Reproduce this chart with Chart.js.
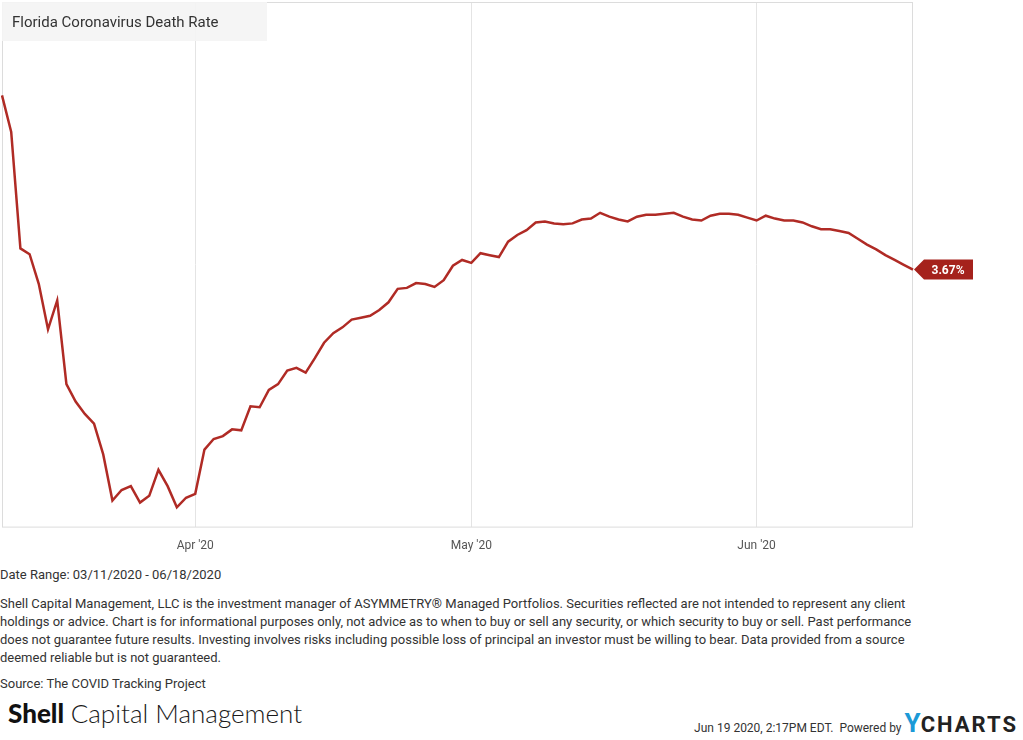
<!DOCTYPE html>
<html>
<head>
<meta charset="utf-8">
<script src="https://cdn.jsdelivr.net/npm/chart.js@4"></script>
<style>
  body { margin: 0; background: #fff; font-family: Roboto, sans-serif; color: #333; }
  #wrap { position: relative; width: 1023px; height: 740px; }
  #chartBox { position: absolute; left: 0; top: 0; width: 1023px; height: 565px; }
  #title { position: absolute; left: 2px; top: 2px; width: 255px; height: 39px; line-height: 40px;
           padding-left: 10px; background: rgba(244,244,244,0.92); font-size: 15px; color: #333; }
  .note { position: absolute; left: 0; font-size: 13px; line-height: 18px; color: #333; }
  #logo { position: absolute; left: 8px; top: 697px; font-family: Lato, sans-serif; font-size: 26px; color: #111; }
  #logo b { font-weight: 900; }
  #logo span { font-weight: 300; color: #1a1a1a; }
  #stamp { position: absolute; right: 5px; top: 708px; font-size: 12px; color: #333; white-space: nowrap; }
  #stamp .y { color: #1b9ad7; font-weight: 700; font-size: 26px; }
  #stamp .c { color: #222; font-weight: 700; font-size: 22px; letter-spacing: 2px; }
</style>
</head>
<body>
<div id="wrap">
  <div id="chartBox"><canvas id="myChart"></canvas></div>
  <div id="title">Florida Coronavirus Death Rate</div>
  <div class="note" style="top:566px">Date Range: 03/11/2020 - 06/18/2020</div>
  <div class="note" style="top:595px">Shell Capital Management, LLC is the investment manager of ASYMMETRY® Managed Portfolios. Securities reflected are not intended to represent any client<br>holdings or advice. Chart is for informational purposes only, not advice as to when to buy or sell any security, or which security to buy or sell. Past performance<br>does not guarantee future results. Investing involves risks including possible loss of principal an investor must be willing to bear. Data provided from a source<br>deemed reliable but is not guaranteed.</div>
  <div class="note" style="top:675px">Source: The COVID Tracking Project</div>
  <div id="logo"><b>Shell</b> <span>Capital Management</span></div>
  <div id="stamp">Jun 19 2020, 2:17PM EDT.&nbsp; Powered by <span class="y">Y</span><span class="c">CHARTS</span></div>
</div>
<script>
// daily values 03/11/2020 .. 06/18/2020 (percent)
const startDate = new Date(2020, 2, 11);
const deathRate = [
  5.48, 5.10, 3.89, 3.83, 3.52, 3.05, 3.35, 2.48, 2.30, 2.17,
  2.07, 1.75, 1.27, 1.38, 1.42, 1.25, 1.32, 1.59, 1.42, 1.20,
  1.30, 1.34, 1.80, 1.91, 1.94, 2.01, 2.00, 2.25, 2.24, 2.42,
  2.48, 2.62, 2.65, 2.60, 2.75, 2.91, 3.01, 3.07, 3.15, 3.17,
  3.19, 3.25, 3.33, 3.47, 3.48, 3.53, 3.52, 3.49, 3.56, 3.71,
  3.77, 3.74, 3.84, 3.82, 3.80, 3.96, 4.03, 4.08, 4.16, 4.17,
  4.15, 4.14, 4.15, 4.19, 4.20, 4.26, 4.22, 4.19, 4.17, 4.22,
  4.24, 4.24, 4.25, 4.26, 4.22, 4.19, 4.18, 4.23, 4.25, 4.25,
  4.24, 4.21, 4.18, 4.23, 4.20, 4.18, 4.18, 4.16, 4.12, 4.09,
  4.09, 4.07, 4.05, 3.99, 3.93, 3.88, 3.82, 3.77, 3.72, 3.67
];
const monthNames = ['Jan', 'Feb', 'Mar', 'Apr', 'May', 'Jun', 'Jul', 'Aug', 'Sep', 'Oct', 'Nov', 'Dec'];

var labels = [];
for (var i = 0; i < deathRate.length; i++) {
    let d = new Date(startDate.getTime());
    d.setDate(d.getDate() + i);
    labels.push(d);
}

function isMonthStart(idx) {
    return labels[idx] && labels[idx].getDate() == 1;
}

const lineColor = '#b02b25';

// frame around the plot + last value flag
const framePlugin = {
    id: 'frame',
    beforeDatasetsDraw(chart) {
        const a = chart.chartArea;
        const ctx = chart.ctx;
        ctx.save();
        ctx.strokeStyle = '#dcdcdc';
        ctx.lineWidth = 1;
        ctx.strokeRect(a.left + 0.5, a.top + 0.5, a.right - a.left - 1, a.bottom - a.top);
        ctx.restore();
    },
    afterDatasetsDraw(chart) {
        const meta = chart.getDatasetMeta(0);
        const pt = meta.data[meta.data.length - 1];
        const ctx = chart.ctx;
        const x = pt.x + 1, y = pt.y;
        ctx.save();
        ctx.fillStyle = '#a5221c';
        ctx.beginPath();
        ctx.moveTo(x, y);
        ctx.lineTo(x + 10, y - 10);
        ctx.lineTo(x + 59, y - 10);
        ctx.lineTo(x + 59, y + 10);
        ctx.lineTo(x + 10, y + 10);
        ctx.closePath();
        ctx.fill();
        ctx.fillStyle = '#fff';
        ctx.font = 'bold 12px Roboto';
        ctx.textAlign = 'center';
        ctx.textBaseline = 'middle';
        ctx.fillText(deathRate[deathRate.length - 1].toFixed(2) + '%', x + 34, y + 1);
        ctx.restore();
    }
};

const config = {
    type: 'line',
    data: {
        labels: labels,
        datasets: [{
            label: 'Florida Coronavirus Death Rate',
            data: deathRate,
            borderColor: lineColor,
            borderWidth: 2.5,
            pointRadius: 0,
            tension: 0,
            fill: false
        }]
    },
    options: {
        responsive: true,
        maintainAspectRatio: false,
        animation: false,
        layout: { padding: { left: 2, top: 2, right: 110, bottom: 0 } },
        plugins: { legend: { display: false }, tooltip: { enabled: false } },
        scales: {
            x: {
                type: 'category',
                offset: false,
                border: { display: false },
                afterFit: function(scale) {
                    scale.paddingLeft = 0;
                    scale.paddingRight = 0;
                },
                grid: {
                    drawTicks: false,
                    color: function(ctx) { return isMonthStart(ctx.index) ? '#e4e4e4' : 'rgba(0,0,0,0)'; },
                    lineWidth: 1
                },
                ticks: {
                    autoSkip: false,
                    maxRotation: 0,
                    padding: 12,
                    color: '#555',
                    font: { family: 'Roboto', size: 12 },
                    callback: function(val, idx) {
                        if (!isMonthStart(idx)) return '';
                        const d = labels[idx];
                        return monthNames[d.getMonth()] + " '" + String(d.getFullYear()).slice(2);
                    }
                }
            },
            y: {
                display: false,
                min: 1.0,
                max: 6.45
            }
        }
    },
    plugins: [framePlugin]
};

const myChart = new Chart(document.getElementById('myChart'), config);
</script>
</body>
</html>
